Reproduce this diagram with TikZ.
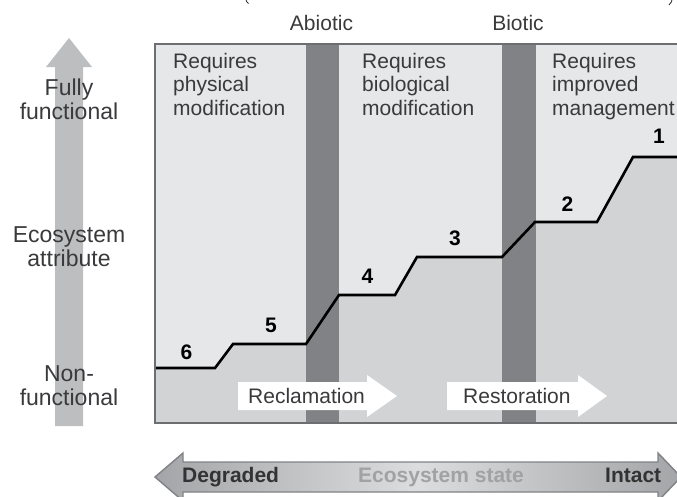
\documentclass[tikz,border=0pt]{standalone}
\usepackage{fontspec}
\setmainfont{Liberation Sans}
\definecolor{bglight}{HTML}{E6E7E8}
\definecolor{bgmid}{HTML}{D1D3D4}
\definecolor{bardark}{HTML}{808285}
\definecolor{axisgray}{HTML}{BCBEC0}
\definecolor{txt}{HTML}{3A3A3C}
\definecolor{framegray}{HTML}{6D6E71}
\definecolor{stategray}{HTML}{A0A2A5}
\definecolor{banddark}{HTML}{A3A5A8}
\definecolor{bandlight}{HTML}{DCDDDE}
\begin{document}
\begin{tikzpicture}[x=1pt,y=-1pt,
  lbl/.style={inner sep=0pt, text=txt, font=\fontsize{21}{23.5}\selectfont},
  axislbl/.style={inner sep=0pt, text=txt, align=center, anchor=north, font=\fontsize{23}{23.5}\selectfont},
  regionlbl/.style={inner sep=0pt, text=txt, align=left, anchor=north west, font=\fontsize{21}{23.5}\selectfont},
  numlbl/.style={inner sep=0pt, text=black, font=\fontsize{21}{23}\selectfont\bfseries},
  boldlbl/.style={inner sep=0pt, anchor=base west, font=\fontsize{21}{23}\selectfont\bfseries},
  whitearrow/.style={fill=white, draw=none},
  profile/.style={line width=2.6pt, black, line join=miter},
  fragment/.style={draw=txt, line width=0.9pt}
]
\useasboundingbox (0,0) rectangle (677,496);
% cropped caption fragments (tips of brackets above the picture)
\draw[fragment] (245.5,-2) .. controls (246,1) and (247,2.5) .. (248.5,3.5);
\draw[fragment] (669,5) .. controls (671,3.5) and (672,1) .. (672.5,-2);
% vertical axis arrow
\fill[axisgray] (55,426) -- (55,67) -- (46,67) -- (69,38) -- (92,67) -- (83,67) -- (83,426) -- cycle;
\node[axislbl] (fully) at (69,79) {Fully\\functional};
\node[axislbl] (attr) at (69,226.5) {Ecosystem\\attribute};
\node[axislbl] (nonf) at (69,365.5) {Non-\\functional};
% main panel
\fill[bglight] (155,44) rectangle (677,423);
\fill[bgmid] (155,368) -- (215,368) -- (233,344) -- (306,344) -- (339,295) -- (395,295) -- (417,257) -- (502,257) -- (535,222) -- (597,222) -- (633,157) -- (677,157) -- (677,423) -- (155,423) -- cycle;
\fill[bardark] (306,44) rectangle (339,423);
\fill[bardark] (502,44) rectangle (536,423);
\draw[profile] (155,368) -- (215,368) -- (233,344) -- (306,344) -- (339,295) -- (395,295) -- (417,257) -- (502,257) -- (535,222) -- (597,222) -- (633,157) -- (677,157);
\draw[framegray, line width=1.5pt] (677,44) -- (155,44) -- (155,423) -- (677,423);
% top labels
\node[lbl, anchor=base] (abiotic) at (321.5,30) {Abiotic};
\node[lbl, anchor=base] (biotic) at (518,30) {Biotic};
% region labels
\node[regionlbl] (phys) at (173,53) {Requires\\physical\\modification};
\node[regionlbl] (bio) at (362,53) {Requires\\biological\\modification};
\node[regionlbl] (mgmt) at (552,53) {Requires\\improved\\management};
% step numbers
\node[numlbl] (n6) at (186.5,352) {6};
\node[numlbl] (n5) at (271,325) {5};
\node[numlbl] (n4) at (367.5,276.5) {4};
\node[numlbl] (n3) at (455,238) {3};
\node[numlbl] (n2) at (567.5,204) {2};
\node[numlbl] (n1) at (659,136) {1};
% process arrows
\fill[whitearrow] (238,382) -- (367,382) -- (367,375) -- (397,396) -- (367,417) -- (367,410) -- (238,410) -- cycle;
\node[lbl, anchor=base west] (recl) at (248,403) {Reclamation};
\fill[whitearrow] (447,382) -- (578,382) -- (578,375) -- (607,396) -- (578,417) -- (578,410) -- (447,410) -- cycle;
\node[lbl, anchor=base west] (rest) at (463,403) {Restoration};
% bottom state arrow
\shade[left color=banddark, right color=banddark, middle color=bandlight]
  (155,477) -- (183,453) -- (183,462) -- (658,462) -- (658,453) -- (681,477) -- (658,501) -- (658,492) -- (183,492) -- (183,501) -- cycle;
\draw[bardark, line width=1.4pt]
  (155,477) -- (183,453) -- (183,462) -- (658,462) -- (658,453) -- (681,477) -- (658,501) -- (658,492) -- (183,492) -- (183,501) -- cycle;
\node[boldlbl, text=black!80] (degr) at (182,482) {Degraded};
\node[boldlbl, text=stategray] (state) at (358,482) {Ecosystem state};
\node[boldlbl, text=black!80] (intact) at (605,482) {Intact};
\end{tikzpicture}
\end{document}
